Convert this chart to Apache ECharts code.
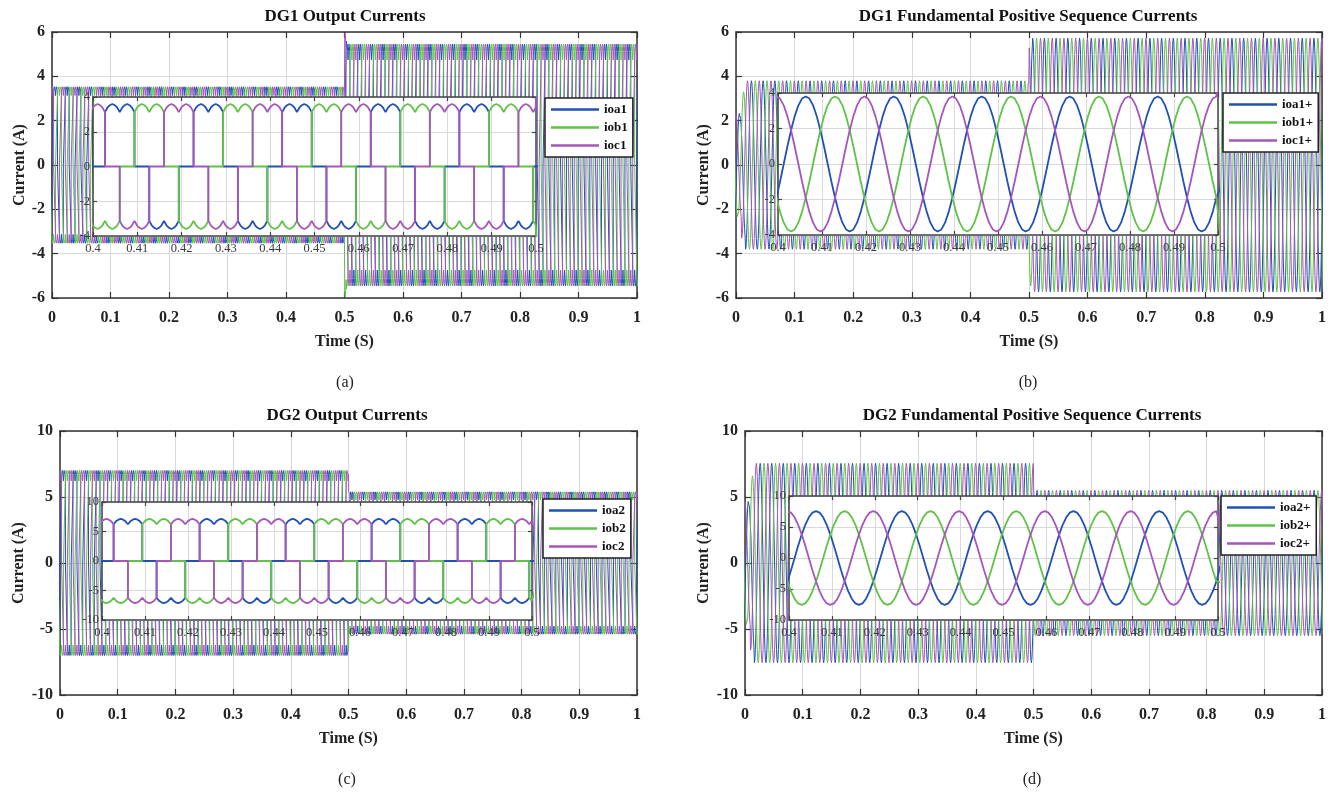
<!DOCTYPE html>
<html><head><meta charset="utf-8">
<script src="https://cdn.jsdelivr.net/npm/echarts@6/dist/echarts.min.js"></script>
<style>html,body{margin:0;padding:0;background:#fff}#c{width:1338px;height:792px}</style>
</head><body><div id="c"></div>
<script>
// ================= data =================
const PERIOD = 0.02;                       // s, 50 Hz
const timeRange = [0, 1];
const insetRange = [0.4, 0.5];
const names1 = ['ioa1', 'iob1', 'ioc1'];
const names1p = ['ioa1+', 'iob1+', 'ioc1+'];
const names2 = ['ioa2', 'iob2', 'ioc2'];
const names2p = ['ioa2+', 'iob2+', 'ioc2+'];
const phaseLagDeg = [0, 120, 240];          // a, b, c
const phaseColors = ['#2151b4', '#60c247', '#a656ba'];

// one cycle of the inverter output current (phase a, normalised), from start of + block
const outCycleDeg = [0, 0, 10, 20, 30, 40, 50, 60, 70, 80, 90, 100, 110, 120, 120, 180, 180, 190, 200, 210, 220, 230, 240, 250, 260, 270, 280, 290, 300, 300, 360];
const outCycleVal = [0, 0.87, 0.94, 0.98, 1, 0.98, 0.94, 0.87, 0.94, 0.98, 1, 0.98, 0.94, 0.87, 0, 0, -0.87, -0.94, -0.98, -1, -0.98, -0.94, -0.87, -0.94, -0.98, -1, -0.98, -0.94, -0.87, 0, 0];
const outCycleStart = 0.0027;              // s (mod period) where phase-a + block starts

// one cycle of the fundamental positive-sequence current (phase a, normalised), from + peak
const fundCycleDeg = [0, 15, 30, 45, 60, 75, 90, 105, 120, 135, 150, 165, 180, 195, 210, 225, 240, 255, 270, 285, 300, 315, 330, 345, 360];
const fundCycleVal = [1, 0.97, 0.87, 0.71, 0.5, 0.26, 0, -0.26, -0.5, -0.71, -0.87, -0.97, -1, -0.97, -0.87, -0.71, -0.5, -0.26, 0, 0.26, 0.5, 0.71, 0.87, 0.97, 1];
const fundCycleStart = 0.0063;             // s (mod period) of phase-a peak

// amplitude steps (A): amplitude holds from each time on
const dg1OutAmpT = [0, 0.5, 0.5035];      const dg1OutAmp = [3.6, 5.95, 5.45];
const dg1FundAmpT = [0, 0.009, 0.016, 0.5, 0.506]; const dg1FundAmp = [2.4, 3.3, 3.8, 5.45, 5.72];
const dg2OutAmpT = [0, 0.5];              const dg2OutAmp = [7.15, 5.5];
const dg2FundAmpT = [0, 0.009, 0.016, 0.5]; const dg2FundAmp = [4.8, 6.6, 7.55, 5.5];

// axis ticks
const dg1Y = {min: -6, max: 6, interval: 2};
const dg2Y = {min: -10, max: 10, interval: 5};
const inset1Y = {min: -4, max: 4, interval: 2};
const inset2Y = {min: -10, max: 10, interval: 5};
const timeInterval = 0.1, insetInterval = 0.01;

const titles = ['DG1 Output Currents', 'DG1 Fundamental Positive Sequence Currents', 'DG2 Output Currents', 'DG2 Fundamental Positive Sequence Currents'];
const captions = ['(a)', '(b)', '(c)', '(d)'];

// ================= build =================
const SERIF = '"Liberation Serif", "Times New Roman", serif';
function ampAt(ts, as, t) { let a = as[0]; for (let i = 0; i < ts.length; i++) if (t >= ts[i]) a = as[i]; return a; }
function wave(cDeg, cVal, start, lag, ampT, amp, t0, t1) {
  const pts = []; const shift = start + lag / 360 * PERIOD;
  const kMin = Math.floor((t0 - shift) / PERIOD) - 1, kMax = Math.ceil((t1 - shift) / PERIOD) + 1;
  for (let k = kMin; k <= kMax; k++) {
    for (let j = 0; j < cDeg.length - 1; j++) {
      const t = shift + (k + cDeg[j] / 360) * PERIOD;
      if (t < t0 - PERIOD || t > t1 + PERIOD) continue;
      pts.push([t, +(cVal[j] * ampAt(ampT, amp, t)).toFixed(4)]);
    }
  }
  return pts;
}

const panels = [
  {names: names1, cDeg: outCycleDeg, cVal: outCycleVal, start: outCycleStart, ampT: dg1OutAmpT, amp: dg1OutAmp, y: dg1Y, iy: inset1Y,
   main: {left: 52, top: 32, width: 585, height: 266}, inset: {left: 93, top: 97, width: 443, height: 139},
   legend: {left: 545, top: 98}, yGap: 24, cx: 345},
  {names: names1p, cDeg: fundCycleDeg, cVal: fundCycleVal, start: fundCycleStart, ampT: dg1FundAmpT, amp: dg1FundAmp, y: dg1Y, iy: inset1Y,
   main: {left: 736, top: 32, width: 586, height: 266}, inset: {left: 778, top: 93, width: 440, height: 142},
   legend: {left: 1223, top: 93}, yGap: 24, cx: 1028},
  {names: names2, cDeg: outCycleDeg, cVal: outCycleVal, start: outCycleStart, ampT: dg2OutAmpT, amp: dg2OutAmp, y: dg2Y, iy: inset2Y,
   main: {left: 60, top: 431, width: 577, height: 264}, inset: {left: 102, top: 502, width: 430, height: 118},
   legend: {left: 543, top: 499}, yGap: 33, cx: 347},
  {names: names2p, cDeg: fundCycleDeg, cVal: fundCycleVal, start: fundCycleStart, ampT: dg2FundAmpT, amp: dg2FundAmp, y: dg2Y, iy: inset2Y,
   main: {left: 745, top: 431, width: 577, height: 264}, inset: {left: 789, top: 496, width: 429, height: 124},
   legend: {left: 1221, top: 496}, yGap: 33, cx: 1032}
];

const grid = [], xAxis = [], yAxis = [], series = [], legend = [], graphic = [];
const AX = '#333';
function axisPair(g, isX, range, interval, isInset, name, gap) {
  const z = isInset ? 4 : 0;
  const base = {gridIndex: g, type: 'value', min: range[0], max: range[1], interval: interval, z: z};
  const line = {show: true, onZero: false, lineStyle: {color: isInset ? '#444' : AX, width: 1.5}};
  const tick = {show: true, inside: true, length: isInset ? 4 : 6, lineStyle: {color: isInset ? '#444' : AX, width: 1.2}};
  const lbl = isInset
    ? {show: true, margin: isX ? 6 : 3, color: '#3a3a3a', fontFamily: SERIF, fontSize: 12.5}
    : {show: true, margin: isX ? 12 : 7, color: '#222', fontFamily: SERIF, fontWeight: 'bold', fontSize: 16};
  const first = Object.assign({}, base, {
    position: isX ? 'bottom' : 'left', axisLine: line, axisTick: tick, axisLabel: lbl,
    splitLine: {show: true, lineStyle: {color: '#d9d9d9', width: 1}}
  });
  if (name) Object.assign(first, {name: name, nameLocation: 'middle', nameGap: gap,
    nameTextStyle: {fontFamily: SERIF, fontWeight: 'bold', fontSize: 16, color: '#222'}});
  const mirror = Object.assign({}, base, {
    position: isX ? 'top' : 'right', axisLine: line, axisTick: tick, axisLabel: {show: false}, splitLine: {show: false}
  });
  return [first, mirror];
}

panels.forEach((p, i) => {
  const gm = i * 2, gi = i * 2 + 1;
  grid.push(Object.assign({show: false, containLabel: false}, p.main));
  grid.push(Object.assign({show: true, backgroundColor: '#fff', borderWidth: 0, z: 3}, p.inset));
  const mx = axisPair(gm, true, timeRange, timeInterval, false, 'Time (S)', 36);
  const my = axisPair(gm, false, [p.y.min, p.y.max], p.y.interval, false, 'Current (A)', p.yGap);
  const ix = axisPair(gi, true, insetRange, insetInterval, true);
  const iy = axisPair(gi, false, [p.iy.min, p.iy.max], p.iy.interval, true);
  xAxis.push(mx[0], mx[1], ix[0], ix[1]);
  yAxis.push(my[0], my[1], iy[0], iy[1]);
  const mxi = i * 4, ixi = i * 4 + 2;
  p.names.forEach((n, k) => {
    const dMain = wave(p.cDeg, p.cVal, p.start, phaseLagDeg[k], p.ampT, p.amp, timeRange[0], timeRange[1]);
    const dIns = wave(p.cDeg, p.cVal, p.start, phaseLagDeg[k], p.ampT, p.amp, insetRange[0], insetRange[1]);
    series.push({type: 'line', name: n, xAxisIndex: mxi, yAxisIndex: mxi, data: dMain, symbol: 'none', showSymbol: false,
      clip: true, z: 2, silent: true, lineStyle: {color: phaseColors[k], width: 1.0}, itemStyle: {color: phaseColors[k]}});
    series.push({type: 'line', name: n, xAxisIndex: ixi, yAxisIndex: ixi, data: dIns, symbol: 'none', showSymbol: false,
      clip: true, z: 5, silent: true, lineStyle: {color: phaseColors[k], width: 1.8}, itemStyle: {color: phaseColors[k]}});
  });
  legend.push({left: p.legend.left, top: p.legend.top, orient: 'vertical', data: p.names, backgroundColor: '#fff',
    borderColor: '#222', borderWidth: 1.5, padding: [5, 5, 5, 6], itemGap: 5, itemWidth: 48, itemHeight: 2.5, icon: 'rect',
    textStyle: {fontFamily: SERIF, fontWeight: 'bold', fontSize: 13, color: '#111', lineHeight: 12}, z: 10, selectedMode: false});
  const topY = p.main.top, botY = p.main.top + p.main.height;
  graphic.push({type: 'text', x: p.cx, y: topY - 15, z: 20, style: {text: titles[i], align: 'center', verticalAlign: 'middle',
    font: 'bold 17px ' + SERIF, fill: '#111'}});
  graphic.push({type: 'text', x: p.cx, y: botY + 85, z: 20, style: {text: captions[i], align: 'center', verticalAlign: 'middle',
    font: '16px ' + SERIF, fill: '#222'}});
});

const chart = echarts.init(document.getElementById('c'), null, {renderer: 'canvas'});
chart.setOption({animation: false, backgroundColor: '#fff', grid, xAxis, yAxis, series, legend, graphic});
</script></body></html>
